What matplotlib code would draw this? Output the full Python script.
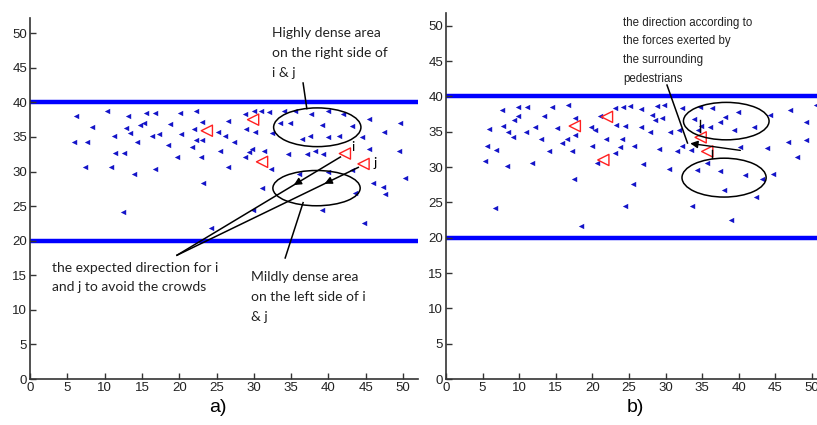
import matplotlib
matplotlib.use("Agg")
import matplotlib.pyplot as plt
from matplotlib.patches import Ellipse

# pedestrians, panel a)
left_x = [6.2, 10.3, 13.1, 15.5, 16.7, 20.1, 22.2, 28.8, 30.0, 31.0, 32.0, 34.1, 35.5, 37.7, 40.0, 42.0, 45.4, 49.6,
          8.3, 12.8, 14.7, 15.3, 18.7, 23.0, 26.6, 29.0, 33.5, 34.9, 39.2, 43.1,
          5.9, 7.7, 11.3, 13.4, 14.4, 16.3, 17.3, 20.3, 22.0, 22.2, 23.1, 25.2, 26.1, 27.3, 30.2, 32.4, 36.4, 37.5,
          39.9, 41.4, 44.5, 47.5,
          11.4, 12.6, 18.5, 21.7, 22.9, 25.5, 29.7, 28.8, 29.3, 31.4, 34.6, 37.1, 38.2, 39.3, 45.4, 49.4, 19.7,
          7.4, 10.9, 14.0, 16.8, 26.5, 32.3, 36.1, 39.9, 43.1, 50.3,
          23.2, 31.1, 46.0, 47.3, 47.6, 43.6,
          12.4, 29.9, 39.2, 44.7, 24.2]
left_y = [38.1, 38.7, 38.1, 38.5, 38.5, 38.5, 38.8, 38.3, 38.7, 38.8, 38.6, 38.8, 38.8, 38.3, 38.8, 38.3, 37.6, 37.0,
          36.4, 36.3, 36.7, 37.0, 36.9, 37.1, 37.3, 36.1, 37.0, 37.0, 36.8, 36.6,
          34.2, 34.2, 35.2, 35.6, 34.2, 35.2, 35.4, 35.4, 36.2, 34.5, 34.5, 35.7, 35.2, 34.2, 35.7, 35.6, 34.7, 35.2,
          35.0, 35.2, 35.0, 35.7,
          32.7, 32.7, 33.9, 33.5, 32.1, 33.0, 33.3, 32.1, 32.8, 32.9, 32.5, 32.6, 33.0, 32.6, 33.3, 33.0, 32.1,
          30.7, 30.6, 29.7, 30.3, 30.7, 30.4, 29.7, 29.9, 30.2, 29.0,
          28.3, 27.6, 28.3, 27.8, 26.7, 26.9,
          24.1, 24.5, 24.5, 22.6, 21.8]
left_red_x = [23.7, 29.9, 31.1, 42.2, 44.7]
left_red_y = [35.9, 37.5, 31.4, 32.6, 31.1]

# pedestrians, panel b)
right_x = [7.6, 9.9, 11.1, 14.5, 16.7, 23.1, 24.2, 25.1, 26.6, 28.8, 29.8, 32.2, 34.7, 36.4, 39.9, 44.3, 47.0, 50.6,
           5.9, 7.8, 9.3, 9.9, 8.5, 9.2, 10.9, 12.1, 13.4, 15.2, 17.6, 17.6, 19.8, 20.4, 23.3, 24.5, 26.6, 28.2,
           28.5, 29.5, 27.9, 30.6, 31.9, 33.9, 34.8, 36.1, 37.4, 38.1, 39.3, 42.1, 49.2, 21.1,
           5.6, 6.9, 13.0, 14.1, 15.9, 16.5, 17.2, 19.9, 21.8, 23.1, 23.8, 24.1, 25.7, 29.1, 31.6, 32.2, 33.5,
           34.5, 40.2, 43.9, 46.8, 49.2, 48.0,
           5.3, 8.3, 11.7, 20.7, 26.9, 30.5, 34.3, 35.7, 37.4, 40.9, 43.2, 44.7,
           17.5, 25.5, 38.0, 42.4,
           6.7, 18.5, 24.4, 33.6, 38.9]
right_y = [38.1, 38.5, 38.5, 38.5, 38.8, 38.3, 38.5, 38.6, 38.2, 38.6, 38.8, 38.3, 38.5, 38.3, 37.8, 37.3, 38.1, 38.8,
           35.4, 35.8, 36.6, 37.2, 35.0, 34.3, 34.9, 35.7, 37.2, 35.5, 36.9, 34.6, 35.7, 35.2, 36.0, 35.8, 35.6, 37.3,
           36.6, 36.9, 34.9, 34.9, 35.3, 36.8, 35.8, 35.7, 36.4, 37.1, 35.2, 35.7, 36.4, 37.2,
           33.0, 32.4, 33.9, 32.3, 33.4, 33.9, 32.2, 33.0, 33.9, 32.0, 32.9, 33.9, 33.0, 32.6, 32.2, 33.0, 32.4,
           35.3, 32.9, 32.7, 33.6, 33.8, 31.4,
           30.8, 30.1, 30.6, 30.6, 30.4, 29.7, 29.6, 30.5, 29.4, 28.9, 28.3, 29.0,
           28.3, 27.6, 26.8, 25.8,
           24.2, 21.7, 24.5, 24.5, 22.5]
right_red_x = [17.6, 22.0, 21.5, 34.8, 35.7]
right_red_y = [35.8, 37.1, 31.0, 34.2, 32.2]

walls = [20, 40]
ticks = [0, 5, 10, 15, 20, 25, 30, 35, 40, 45, 50]

tick_font = ["Liberation Sans Narrow", "Liberation Sans", "DejaVu Sans"]
note_font = ["Lato", "DejaVu Sans"]


def setup(ax, xmax, ymax):
    ax.set_xlim(0, xmax)
    ax.set_ylim(0, ymax)
    ax.set_xticks(ticks)
    ax.set_yticks(ticks)
    for s in ["top", "right"]:
        ax.spines[s].set_visible(False)
    for s in ["left", "bottom"]:
        ax.spines[s].set_color("#333333")
        ax.spines[s].set_linewidth(1.2)
    ax.tick_params(direction="in", length=4, width=1, color="#333333", pad=2)
    for lab in ax.get_xticklabels() + ax.get_yticklabels():
        lab.set_family(tick_font)
        lab.set_fontsize(9.5)
        lab.set_color("#222222")
    for w in walls:
        ax.axhline(w, color="#0000ff", lw=3.2, zorder=1)


def crowd(ax, xs, ys, rx, ry):
    ax.scatter(xs, ys, marker="<", s=15, color="#1414c8", linewidths=0, zorder=3)
    ax.scatter(rx, ry, marker="<", s=65, facecolors="none", edgecolors="#ff2020", linewidths=1.0, zorder=4)


def mid_arrow(ax, p0, p1, frac):
    # arrowhead sitting part way along the segment p0 -> p1
    hx = p0[0] + (p1[0] - p0[0]) * frac
    hy = p0[1] + (p1[1] - p0[1]) * frac
    bx = p0[0] + (p1[0] - p0[0]) * (frac - 0.05)
    by = p0[1] + (p1[1] - p0[1]) * (frac - 0.05)
    ax.annotate("", xy=(hx, hy), xytext=(bx, by),
                arrowprops=dict(arrowstyle="-|>", color="k", lw=1, mutation_scale=11))


fig = plt.figure(figsize=(8.17, 4.25), dpi=100)
ax1 = fig.add_axes([30 / 817, 46 / 425, 388 / 817, 361 / 425])
ax2 = fig.add_axes([446 / 817, 46 / 425, 371 / 817, 366 / 425])

# ---- panel a)
setup(ax1, 52, 52.2)
crowd(ax1, left_x, left_y, left_red_x, left_red_y)
ax1.add_patch(Ellipse((38.5, 36.4), 11.7, 5.6, fill=False, ec="k", lw=1.1, zorder=5))
ax1.add_patch(Ellipse((38.4, 27.6), 11.7, 5.1, fill=False, ec="k", lw=1.1, zorder=5))

meet = (19.7, 17.9)
from_i = (41.6, 32.1)
from_j = (44.0, 30.6)
for p0 in [from_i, from_j]:
    ax1.plot([p0[0], meet[0]], [p0[1], meet[1]], color="k", lw=1.1, zorder=5)
mid_arrow(ax1, from_i, meet, 0.3)
mid_arrow(ax1, from_j, meet, 0.2)
ax1.plot([36.6, 37.1], [42.8, 39.1], color="k", lw=1.1, zorder=5)
ax1.plot([34.2, 36.6], [17.5, 25.5], color="k", lw=1.1, zorder=5)

ax1.text(43.0, 33.0, "i", fontsize=10, family=note_font)
ax1.text(46.0, 30.7, "j", fontsize=10, family=note_font)
ax1.text(32.4, 50.9, "Highly dense area\non the right side of\ni & j", fontsize=10,
         family=note_font, va="top", linespacing=1.8, color="#222222")
ax1.text(2.9, 16.95, "the expected direction for i\nand j to avoid the crowds", fontsize=10,
         family=note_font, va="top", linespacing=1.75, color="#222222")
ax1.text(29.6, 15.66, "Mildly dense area\non the left side of i\n& j", fontsize=10,
         family=note_font, va="top", linespacing=1.8, color="#222222")

# ---- panel b)
setup(ax2, 50.7, 51.8)
crowd(ax2, right_x, right_y, right_red_x, right_red_y)
ax2.add_patch(Ellipse((38.3, 36.5), 11.7, 5.3, fill=False, ec="k", lw=1.1, zorder=5))
ax2.add_patch(Ellipse((38.0, 28.5), 11.5, 5.5, fill=False, ec="k", lw=1.1, zorder=5))

tip = (33.0, 33.4)
ax2.annotate("", xy=tip, xytext=(40.6, 32.3),
             arrowprops=dict(arrowstyle="-|>", color="k", lw=1, mutation_scale=11), zorder=6)
ax2.plot([30.2, tip[0]], [41.6, tip[1]], color="k", lw=1.1, zorder=5)
ax2.plot([34.7, 34.7], [35.0, 36.7], color="k", lw=1, zorder=5)
ax2.plot([36.3, 36.3], [31.3, 32.4], color="k", lw=1, zorder=5)
ax2.text(24.2, 51.3, "the direction according to\nthe forces exerted by\nthe surrounding\npedestrians",
         fontsize=8.3, family=tick_font, va="top", linespacing=1.75, color="#222222")

fig.text(218 / 817, 1 - 407 / 425, "a)", fontsize=14, family=["Liberation Sans", "DejaVu Sans"],
         ha="center", va="center")
fig.text(635 / 817, 1 - 407 / 425, "b)", fontsize=14, family=["Liberation Sans", "DejaVu Sans"],
         ha="center", va="center")

fig.savefig("out.png", dpi=100)
